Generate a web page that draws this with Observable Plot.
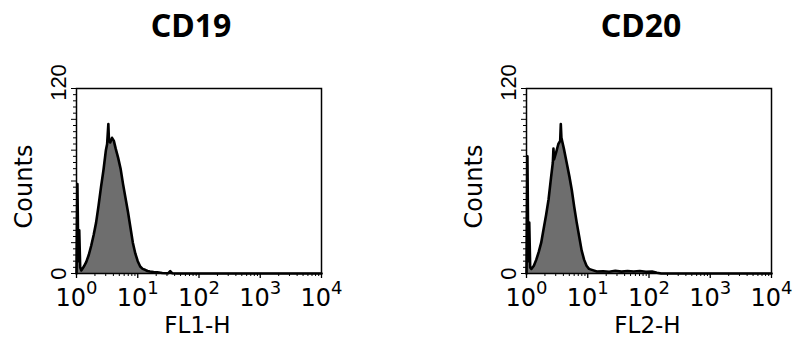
<!DOCTYPE html>
<html>
<head>
<meta charset="utf-8">
<script src="https://cdn.jsdelivr.net/npm/d3@7"></script>
<script src="https://cdn.jsdelivr.net/npm/@observablehq/plot@0.6"></script>
<style>
  html, body { margin: 0; padding: 0; background: #fff; }
  #root { position: relative; width: 793px; height: 338px; overflow: hidden; background: #fff; }
  .panel { position: absolute; top: 0; width: 343px; height: 338px; }
  .title { position: absolute; top: 9px; font: bold 32px "Noto Sans", "Open Sans", sans-serif; line-height: 32px; color: #000; text-align: center; width: 200px; }
  .panel svg { position: absolute; top: 50px; left: 0; }
</style>
</head>
<body>
<div id="root"></div>
<script>
// ---- data ----
const titles = ["CD19", "CD20"];
const xLabels = ["FL1-H", "FL2-H"];
const decadeExponents = ["0", "1", "2", "3", "4"];
const decadeValues = [1, 10, 100, 1000, 10000];
const yLabelValues = [0, 120];

// log10(fluorescence) positions and counts, CD19 (FL1-H)
const cd19Log =    [0.00, 0.015, 0.03, 0.045, 0.06, 0.08, 0.12, 0.16, 0.20, 0.24, 0.28, 0.32, 0.36, 0.40, 0.44, 0.48, 0.50, 0.52, 0.53, 0.55, 0.58, 0.61, 0.64, 0.68, 0.72, 0.76, 0.80, 0.84, 0.88, 0.92, 0.96, 1.00, 1.04, 1.08, 1.12, 1.16, 1.20, 1.26, 1.32, 1.40, 1.50, 1.53, 1.56, 1.65, 4.0];
const cd19Counts = [0,    58,    8,    28,    4,    2,    4.5,  7.5,  12,   18,   25,   33,   44,   56,   67,   80,   84,   97,   86,   85,   88,   86,   81,   75,   68,   58,   49,   40,   30,   20,   13,   8,    4.5,  3,    2.4,  1.6,  1.3,  1.0,  0.8,  0.3,  0.2,  1.5,  0.2,  0,    0];

// log10(fluorescence) positions and counts, CD20 (FL2-H)
const cd20Log =    [0.00, 0.015, 0.03, 0.045, 0.06, 0.08, 0.12, 0.16, 0.20, 0.24, 0.28, 0.32, 0.36, 0.40, 0.43, 0.44, 0.45, 0.48, 0.52, 0.55, 0.56, 0.57, 0.61, 0.66, 0.70, 0.74, 0.78, 0.82, 0.86, 0.90, 0.94, 0.98, 1.02, 1.08, 1.15, 1.25, 1.35, 1.45, 1.55, 1.65, 1.75, 1.85, 1.95, 2.05, 2.13, 2.20, 4.0];
const cd20Counts = [0,    76,    8,    33,    4,    3,    5,    9,    14,   20,   29,   38,   48,   62,   72,   81,   74,   78,   84,   86,   97,   88,   81,   71,   63,   54,   43,   33,   24,   15,   9,    5,    3,    2.2,  1.3,  1.5,  1.1,  1.8,  1.2,  1.6,  1.3,  1.6,  1.1,  1.3,  0.5,  0,    0];

const panelsLogs = [cd19Log, cd20Log];
const panelsCounts = [cd19Counts, cd20Counts];
const panelOffsets = [0, 450];

// tick positions
const minorX = d3.range(0, 4).flatMap(k => d3.range(2, 10).map(m => m * 10 ** k));
const majorY = d3.range(0, 121, 20);
const minorY = d3.range(0, 121, 4).filter(v => v % 20 !== 0);

const font = "Liberation Sans, Arial, sans-serif";
const wideFont = "DejaVu Sans, Verdana, sans-serif";
const root = document.getElementById("root");

const W = 343, H = 288, ML = 76, MR = 22, MT = 38, MB = 65;
const FW = W - ML - MR, FH = H - MT - MB;

titles.forEach((title, i) => {
  const data = panelsLogs[i].map((e, j) => ({x: 10 ** e, c: panelsCounts[i][j]}));
  const panel = document.createElement("div");
  panel.className = "panel";
  panel.style.left = panelOffsets[i] + "px";

  const t = document.createElement("div");
  t.className = "title";
  t.textContent = title;
  t.style.left = (191 - 100) + "px";
  panel.appendChild(t);

  const chart = Plot.plot({
    width: W,
    height: H,
    marginLeft: ML,
    marginRight: MR,
    marginTop: MT,
    marginBottom: MB,
    x: {type: "log", domain: [1, 10000], axis: null},
    y: {domain: [0, 120], axis: null},
    style: {fontFamily: font, background: "transparent", overflow: "visible", color: "black"},
    marks: [
      Plot.areaY(data, {x: "x", y: "c", fill: "#6e6e6e", curve: "linear"}),
      Plot.lineY(data, {x: "x", y: "c", stroke: "black", strokeWidth: 2.6, curve: "linear"}),
      Plot.frame({stroke: "black", strokeWidth: 1.5}),
      // x ticks (outward, below the frame)
      Plot.ruleX(minorX, {x: d => d, insetTop: FH, insetBottom: -3, stroke: "black", strokeWidth: 1}),
      Plot.ruleX(decadeValues, {x: d => d, insetTop: FH, insetBottom: -5, stroke: "black", strokeWidth: 1.3}),
      // y ticks (outward, left of the frame)
      Plot.ruleY(minorY, {y: d => d, insetRight: FW, insetLeft: -3, stroke: "black", strokeWidth: 1}),
      Plot.ruleY(majorY, {y: d => d, insetRight: FW, insetLeft: -5, stroke: "black", strokeWidth: 1}),
      Plot.text(decadeValues, {x: d => d, y: 0, text: () => "10", textAnchor: "end", lineAnchor: "bottom", dx: 9.5, dy: 32, fontSize: 24, fontFamily: wideFont, fill: "black"}),
      Plot.text(decadeValues, {x: d => d, y: 0, text: (d, k) => decadeExponents[k], textAnchor: "start", lineAnchor: "bottom", dx: 9.5, dy: 20, fontSize: 18, fontFamily: wideFont, fill: "black"}),
      Plot.text([yLabelValues[0]], {x: 1, y: d => d, text: d => String(d), rotate: -90, textAnchor: "middle", lineAnchor: "bottom", dx: -11, dy: 0, fontSize: 22, fontFamily: font, fill: "black"}),
      Plot.text([yLabelValues[1]], {x: 1, y: d => d, text: d => String(d), rotate: -90, textAnchor: "middle", lineAnchor: "bottom", dx: -11, dy: -6, fontSize: 22, fontFamily: font, fill: "black"}),
      Plot.text(["Counts"], {frameAnchor: "left", text: d => d, rotate: -90, textAnchor: "middle", lineAnchor: "bottom", dx: -45, dy: 5.5, fontSize: 24, fontFamily: wideFont, fill: "black"}),
      Plot.text([xLabels[i]], {frameAnchor: "bottom", text: d => d, textAnchor: "middle", lineAnchor: "bottom", dx: -1.5, dy: 59, fontSize: 23, fontFamily: wideFont, fill: "black"})
    ]
  });
  panel.appendChild(chart);
  root.appendChild(panel);
});
</script>
</body>
</html>
